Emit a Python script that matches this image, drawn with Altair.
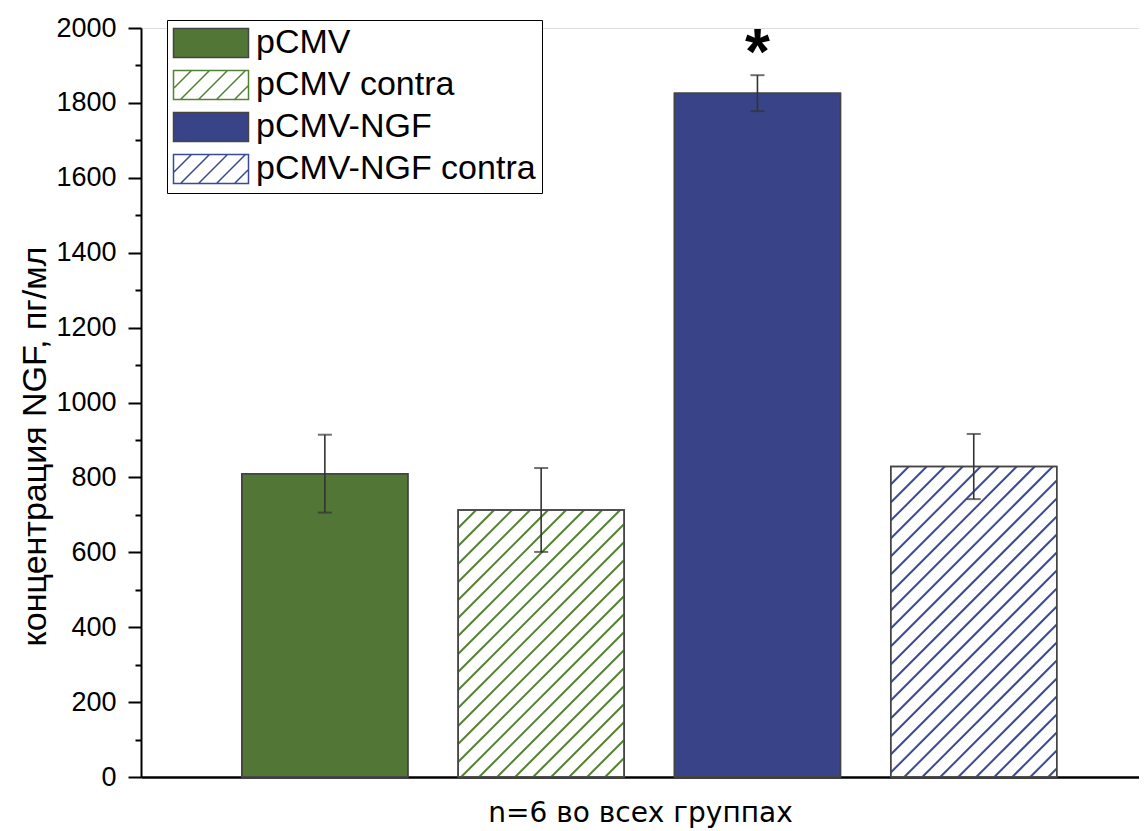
import altair as alt
import pandas as pd
import numpy as np

# ---------------- data ----------------
groups = ["pCMV", "pCMV contra", "pCMV-NGF", "pCMV-NGF contra"]
positions = [1, 2, 3, 4]
means = [810, 713, 1826, 829]
errors = [104, 112, 48, 87]
hatched = [False, True, False, True]
signif = ["", "", "*", ""]

# ---------------- style / layout ----------------
colors = ["#527636", "#527636", "#384487", "#384487"]
hatch_colors = ["#527636", "#548235", "#384487", "#3B4A96"]
W, H = 998, 749
X_DOMAIN = [0.15, 4.764]
Y_DOMAIN = [0, 2000]
BAR_PX = 166
HATCH_STEP = 18
SW_W, SW_H = 75, 29  # legend swatch

sx = W / (X_DOMAIN[1] - X_DOMAIN[0])
sy = H / (Y_DOMAIN[1] - Y_DOMAIN[0])

bars = pd.DataFrame({
    "group": groups,
    "pos": positions,
    "mean": means,
    "lo": [m - e for m, e in zip(means, errors)],
    "hi": [m + e for m, e in zip(means, errors)],
    "fill": ["white" if h else c for h, c in zip(hatched, colors)],
    "sig": signif,
})

# hatch segments derived from the bars
rows = []
for g, p, m, h, hc in zip(groups, positions, means, hatched, hatch_colors):
    if not h:
        continue
    hp = m * sy
    w = BAR_PX
    xl = p - w / 2 / sx
    k = 1
    while True:
        c = hp - k * HATCH_STEP
        if c <= -w:
            break
        u0 = max(0.0, -c)
        u1 = min(float(w), hp - c)
        if u1 > u0:
            rows.append({"hx": xl + u0 / sx, "hy": (u0 + c) / sy,
                         "hx2": xl + u1 / sx, "hy2": (u1 + c) / sy,
                         "color": hc})
        k += 1
hatch = pd.DataFrame(rows)

# legend symbols: path units scaled so that 1 unit = SW_H/2 px
unit = SW_H / 2
hw = (SW_W / 2) / unit
rect_path = f"M{-hw:.3f},-1H{hw:.3f}V1H{-hw:.3f}Z"
step_u = HATCH_STEP / unit
lines = []
c = -hw - 1 + step_u
while c < hw + 1:
    xa = max(-hw, c - 1)
    xb = min(hw, c + 1)
    if xb > xa:
        lines.append(f"M{xa:.3f},{c - xa:.3f}L{xb:.3f},{c - xb:.3f}")
    c += step_u
hatch_path = rect_path + "".join(lines)
shapes = [hatch_path if h else rect_path for h in hatched]
legend_fill = ["white" if h else c for h, c in zip(hatched, colors)]
legend_stroke = [hc if h else "#444444" for h, hc in zip(hatched, hatch_colors)]

# ---------------- scales / axes ----------------
xs = alt.Scale(domain=X_DOMAIN, nice=False, zero=False, padding=0)
ys = alt.Scale(domain=Y_DOMAIN, nice=False)
xa = alt.Axis(title="n=6 во всех группах", labels=False, ticks=False, grid=False,
              domainColor="black", domainWidth=2.5,
              titleFont="DejaVu Sans", titleFontSize=28, titleFontWeight="normal",
              titleColor="black", titleBaseline="alphabetic", titleY=44)
ya = alt.Axis(title="концентрация NGF, пг/мл", values=list(range(0, 2001, 100)),
              format="d",
              labelExpr="datum.value % 200 === 0 ? datum.label : ''",
              tickSize={"condition": {"test": "datum.value % 200 !== 0", "value": 6}, "value": 13},
              grid=False, domainColor="black", domainWidth=2, tickColor="black", tickWidth=2,
              labelFont="Liberation Sans", labelFontSize=27, labelColor="black",
              labelPadding=12, labelOverlap=False,
              titleFont="Liberation Sans", titleFontSize=34, titleFontWeight="normal",
              titleColor="black", titleAngle=-90, titleAlign="center",
              titleBaseline="alphabetic", titleX=-96, titleY=418)

base = alt.Chart(bars)

bar_layer = base.mark_bar(size=BAR_PX, stroke="#444444", strokeWidth=1.5).encode(
    x=alt.X("pos:Q", scale=xs, axis=xa),
    y=alt.Y("mean:Q", scale=ys, axis=ya),
    fill=alt.Fill("fill:N", scale=None),
)

hatch_layer = alt.Chart(hatch).mark_rule(strokeWidth=2).encode(
    x=alt.X("hx:Q", scale=xs, axis=xa),
    y=alt.Y("hy:Q", scale=ys, axis=ya),
    x2="hx2:Q",
    y2="hy2:Q",
    stroke=alt.Stroke("color:N", scale=None),
)

outline_layer = base.mark_bar(size=BAR_PX, stroke="#444444", strokeWidth=1.5,
                              fillOpacity=0).encode(
    x=alt.X("pos:Q", scale=xs, axis=xa),
    y=alt.Y("mean:Q", scale=ys, axis=ya),
)

err_layer = base.mark_errorbar(
    ticks={"size": 14, "thickness": 2, "color": "#333333"},
    rule={"strokeWidth": 1.6, "color": "#333333"},
).encode(
    x=alt.X("pos:Q", scale=xs, axis=xa),
    y=alt.Y("lo:Q", scale=ys, axis=ya),
    y2="hi:Q",
)

sig_layer = base.mark_text(font="Liberation Sans", fontSize=64, fontWeight="bold",
                           color="black", baseline="alphabetic", dy=-1).encode(
    x=alt.X("pos:Q", scale=xs, axis=xa),
    y=alt.Y("hi:Q", scale=ys, axis=ya),
    text="sig:N",
)

leg = alt.Legend(title=None, orient="none", legendX=26, legendY=-8,
                 symbolSize=SW_H * SW_H, symbolStrokeWidth=1.5, symbolOpacity=1,
                 symbolOffset=21,
                 labelFont="Liberation Sans", labelFontSize=34, labelColor="black",
                 labelOffset=28, labelLimit=500, padding=6, rowPadding=6,
                 strokeColor="black", fillColor="white")

legend_layer = base.mark_point(filled=True, opacity=0, size=SW_H * SW_H).encode(
    x=alt.X("pos:Q", scale=xs, axis=xa),
    y=alt.Y("mean:Q", scale=ys, axis=ya),
    fill=alt.Fill("group:N", scale=alt.Scale(domain=groups, range=legend_fill), legend=leg),
    stroke=alt.Stroke("group:N", scale=alt.Scale(domain=groups, range=legend_stroke), legend=leg),
    shape=alt.Shape("group:N", scale=alt.Scale(domain=groups, range=shapes), legend=leg),
)

chart = alt.layer(bar_layer, hatch_layer, outline_layer, err_layer, sig_layer, legend_layer).properties(
    width=W, height=H,
    autosize=alt.AutoSizeParams(type="none"),
    padding={"left": 133, "top": 20, "right": 0, "bottom": 54},
).configure_view(stroke=None).configure(background="white")

chart.save("out.html", embed_options={"renderer": "svg", "actions": False})
